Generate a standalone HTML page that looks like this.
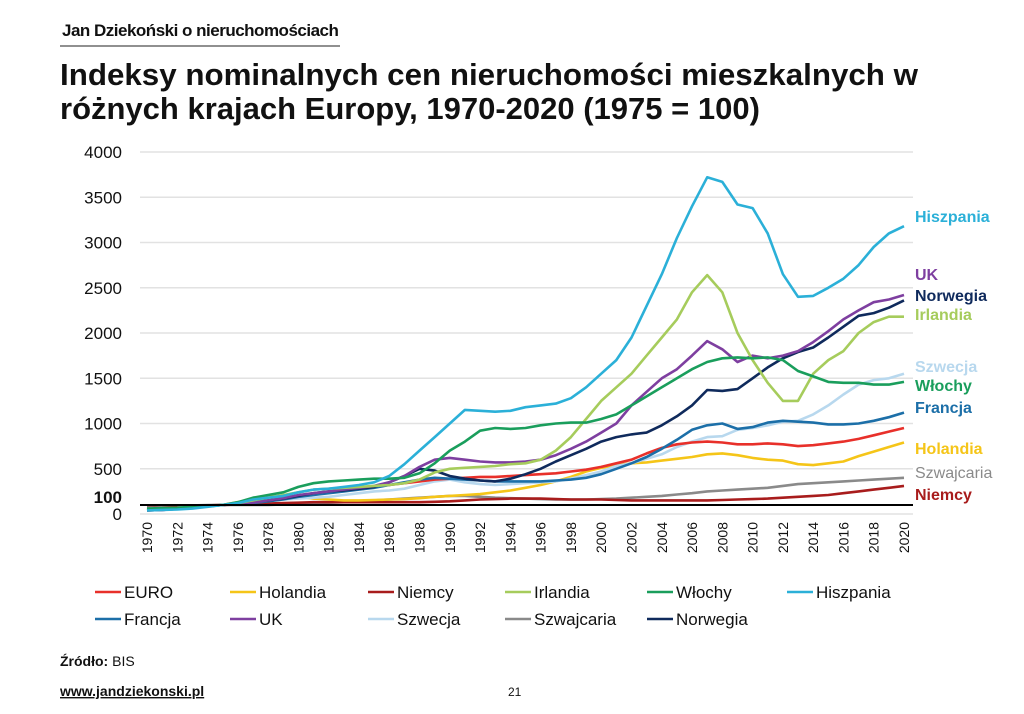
<!DOCTYPE html>
<html><head><meta charset="utf-8"><style>
body{margin:0;background:#fff;font-family:"Liberation Sans",Arial,sans-serif;}
svg text{font-family:"Liberation Sans",Arial,sans-serif;}
</style></head><body>
<svg id="c" width="1024" height="709" viewBox="0 0 1024 709" xmlns="http://www.w3.org/2000/svg">
<text x="62" y="36" font-size="17" font-weight="bold" fill="#111" style="letter-spacing:-0.5px">Jan Dziekoński o nieruchomościach</text>
<line x1="60" y1="46" x2="340" y2="46" stroke="#222" stroke-width="1"/>
<text x="60" y="85" font-size="31" font-weight="bold" fill="#111" textLength="858" lengthAdjust="spacingAndGlyphs">Indeksy nominalnych cen nieruchomości mieszkalnych w</text>
<text x="60" y="119" font-size="31" font-weight="bold" fill="#111">różnych krajach Europy, 1970-2020 (1975 = 100)</text>
<g id="grid"></g><g id="series"></g><g id="axes"></g><g id="legend"></g>
<text x="60" y="666" font-size="14" fill="#111"><tspan font-weight="bold">Źródło:</tspan> BIS</text>
<text x="60" y="696" font-size="14" font-weight="bold" fill="#111" text-decoration="underline">www.jandziekonski.pl</text>
<text x="508" y="696" font-size="12" fill="#111">21</text>
</svg>
<script>
const years=[];for(let y=1970;y<=2020;y++)years.push(y);
const yTicks=[0,500,1000,1500,2000,2500,3000,3500,4000];
const seriesNames=["EURO","Holandia","Niemcy","Irlandia","Włochy","Hiszpania","Francja","UK","Szwecja","Szwajcaria","Norwegia"];
const hiszpania=[40,45,50,60,80,100,120,160,180,200,240,270,280,300,320,350,420,550,700,850,1000,1150,1140,1130,1140,1180,1200,1220,1280,1400,1550,1700,1950,2300,2650,3050,3400,3720,3670,3420,3380,3100,2650,2400,2410,2500,2600,2750,2950,3100,3180];
const wlochy=[60,65,70,80,90,100,130,180,210,240,300,340,360,370,380,390,390,400,450,560,700,800,920,950,940,950,980,1000,1010,1010,1050,1100,1200,1300,1400,1500,1600,1680,1720,1730,1720,1730,1700,1580,1520,1460,1450,1450,1430,1430,1460];
const irlandia=[50,55,60,70,85,100,120,150,180,210,240,270,280,290,300,310,320,340,380,460,500,510,520,530,550,560,600,700,850,1050,1250,1400,1550,1750,1950,2150,2450,2640,2450,2000,1700,1450,1250,1250,1550,1700,1800,2000,2120,2180,2180];
const uk=[40,45,55,70,90,100,110,125,150,175,210,230,250,270,290,310,350,420,520,600,620,600,580,570,570,580,600,650,720,800,900,1000,1200,1350,1500,1600,1750,1910,1820,1680,1750,1720,1750,1800,1900,2020,2150,2250,2340,2370,2420];
const norwegia=[40,45,55,65,85,100,110,130,150,170,200,230,250,260,280,300,350,420,500,480,420,390,370,360,390,440,500,580,650,720,800,850,880,900,980,1080,1200,1370,1360,1380,1500,1620,1720,1790,1840,1950,2070,2190,2220,2280,2360];
const francja=[50,55,60,70,85,100,110,120,140,160,190,210,230,250,270,290,320,350,380,400,390,380,370,360,360,360,360,370,380,400,440,500,560,630,720,820,930,980,1000,940,960,1010,1030,1020,1010,990,990,1000,1030,1070,1120];
const euro=[50,55,65,75,85,100,115,130,150,170,200,220,240,260,280,300,320,340,360,380,390,400,410,410,420,430,440,450,470,490,520,560,600,670,730,770,790,800,790,770,770,780,770,750,760,780,800,830,870,910,950];
const szwecja=[60,65,70,80,90,100,110,130,150,160,170,180,190,210,230,250,260,280,320,360,380,350,330,320,330,340,350,360,390,430,470,530,560,610,660,740,800,850,860,930,950,980,1020,1030,1100,1200,1320,1430,1480,1500,1550];
const holandia=[40,50,60,75,90,100,130,160,190,200,190,170,160,150,150,155,160,165,175,190,200,210,220,240,260,290,320,360,410,470,510,540,560,570,590,610,630,660,670,650,620,600,590,550,540,560,580,640,690,740,790];
const szwajcaria=[80,85,90,95,98,100,100,100,100,105,110,120,125,130,140,150,160,170,180,190,200,200,190,180,175,170,165,160,160,160,165,170,180,190,200,215,230,250,260,270,280,290,310,330,340,350,360,370,380,390,400];
const niemcy=[65,70,80,90,95,100,105,110,115,120,125,130,130,130,130,130,130,130,130,135,140,150,160,165,170,170,170,165,160,160,160,155,150,150,150,150,150,150,155,160,165,170,180,190,200,210,230,250,270,290,310];
const NS="http://www.w3.org/2000/svg";
const X0=147,X1=904,Y0=514,Y1=152,XL=140,XR=913;
const xs=y=>X0+(y-1970)*(X1-X0)/50;
const ys=v=>Y0-v*(Y0-Y1)/4000;
function mk(tag,attrs,parent){const e=document.createElementNS(NS,tag);for(const k in attrs)e.setAttribute(k,attrs[k]);parent.appendChild(e);return e;}
const grid=document.getElementById('grid'),axes=document.getElementById('axes'),ser=document.getElementById('series'),leg=document.getElementById('legend');
yTicks.forEach(v=>{
 const l=mk('line',{x1:XL,x2:XR,y1:ys(v),y2:ys(v),stroke:'#e2e2e2','stroke-width':1.5},grid);
 
 
 const t=mk('text',{x:122,y:ys(v)+6,'text-anchor':'end','font-size':17,fill:'#111'},axes);t.textContent=v;
 
 
});
const t100=mk('text',{x:122,y:ys(100)-2,'text-anchor':'end','font-size':17,'font-weight':'bold',fill:'#111'},axes);t100.textContent='100';


const base=mk('line',{x1:XL,x2:XR,y1:ys(100),y2:ys(100),stroke:'#000','stroke-width':2},axes);


years.filter(y=>y%2==0).forEach(y=>{
 const t=mk('text',{x:0,y:0,'font-size':14,fill:'#111','text-anchor':'end',transform:`translate(${xs(y)+5},522) rotate(-90)`},axes);t.textContent=y;
 
 
});
const data=[euro,holandia,niemcy,irlandia,wlochy,hiszpania,francja,uk,szwecja,szwajcaria,norwegia];
const colors=['#e8302a','#f5c518','#a81c1c','#a6cc5c','#1a9e5c','#2bb0d8','#1c6fa8','#7e3fa0','#b8d8ee','#8a8a8a','#0f2a5c'];
const order=[9,2,1,8,0,6,10,7,3,4,5];
order.forEach(i=>{
 const d=data[i].map((v,k)=>(k?'L':'M')+xs(years[k]).toFixed(1)+','+ys(v).toFixed(1)).join('');
 const p=mk('path',{d:d,fill:'none',stroke:colors[i],'stroke-width':2.6,'stroke-linejoin':'round'},ser);
 
 
});
const endLabels=[[5,'Hiszpania',222],[7,'UK',280],[10,'Norwegia',301],[3,'Irlandia',320],[8,'Szwecja',372],[4,'Włochy',391],[6,'Francja',413],[1,'Holandia',454],[9,'Szwajcaria',478],[2,'Niemcy',500]];
endLabels.forEach(([i,n,y])=>{
 const t=mk('text',{x:915,y:y,'font-size':16,'font-weight':i==9?'normal':'bold',fill:colors[i]},axes);t.textContent=n;
 
 
});
const legPos=[[95,592],[230,592],[368,592],[505,592],[647,592],[787,592],[95,619],[230,619],[368,619],[505,619],[647,619]];
seriesNames.forEach((n,i)=>{
 const [x,y]=legPos[i];
 const g=mk('g',{},leg);
 
 
 mk('line',{x1:x,x2:x+26,y1:y,y2:y,stroke:colors[i],'stroke-width':2.6},g);
 const t=mk('text',{x:x+29,y:y+6,'font-size':17,fill:'#111'},g);t.textContent=n;
});
</script>
</body></html>
